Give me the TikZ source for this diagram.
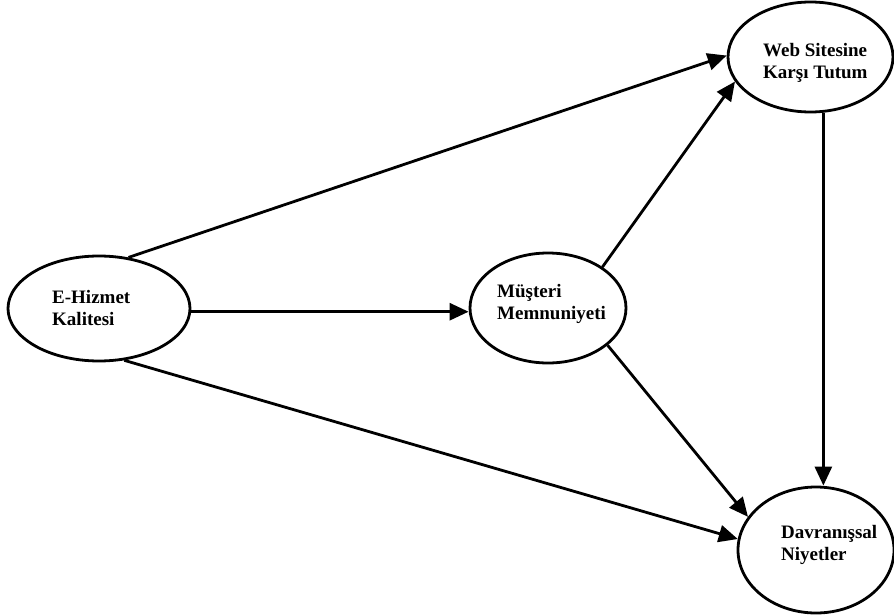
\documentclass[tikz,border=0pt]{standalone}
\usepackage{fontspec}
\setmainfont{Liberation Serif}
\usetikzlibrary{arrows.meta,shapes.geometric}
\begin{document}
\begin{tikzpicture}[x=1pt,y=-1pt,
  oval/.style={draw, ellipse, line width=2.8pt, inner sep=0pt},
  caption/.style={anchor=north west, align=left, inner sep=0pt,
    font=\fontsize{19}{22.5}\selectfont\bfseries},
  link/.style={line width=2.8pt, -{Triangle[length=19pt,width=17pt]}}]
\useasboundingbox (0,0) rectangle (894,615);

% constructs
\node[oval, minimum width=182pt, minimum height=105pt] (ehiz) at (99,308.5) {};
\node[oval, minimum width=156pt, minimum height=110pt] (mus)  at (548,308) {};
\node[oval, minimum width=165pt, minimum height=110pt] (web)  at (810.5,57) {};
\node[oval, minimum width=156pt, minimum height=126pt] (davr) at (816,550) {};

% construct names
\node[caption] (ehizt) at (52,290)  {E-Hizmet\\Kalitesi};
\node[caption] (must)  at (497,284) {Müşteri\\Memnuniyeti};
\node[caption] (webt)  at (763,43)  {Web Sitesine\\Karşı Tutum};
\node[caption] (davrt) at (781,525) {Davranışsal\\Niyetler};

% hypothesised paths
\draw[link] (ehiz.60) -- (web.179);
\draw[link] (ehiz.-2) -- (ehiz.-2 -| mus.west);
\draw[link] (ehiz.-64) -- (davr.172);
\draw[link] (mus.37) -- (web.198);
\draw[link] (mus.-32) -- (davr.154);
\draw[link] (web.-77) -- (web.-77 |- davr.north);
\end{tikzpicture}
\end{document}
